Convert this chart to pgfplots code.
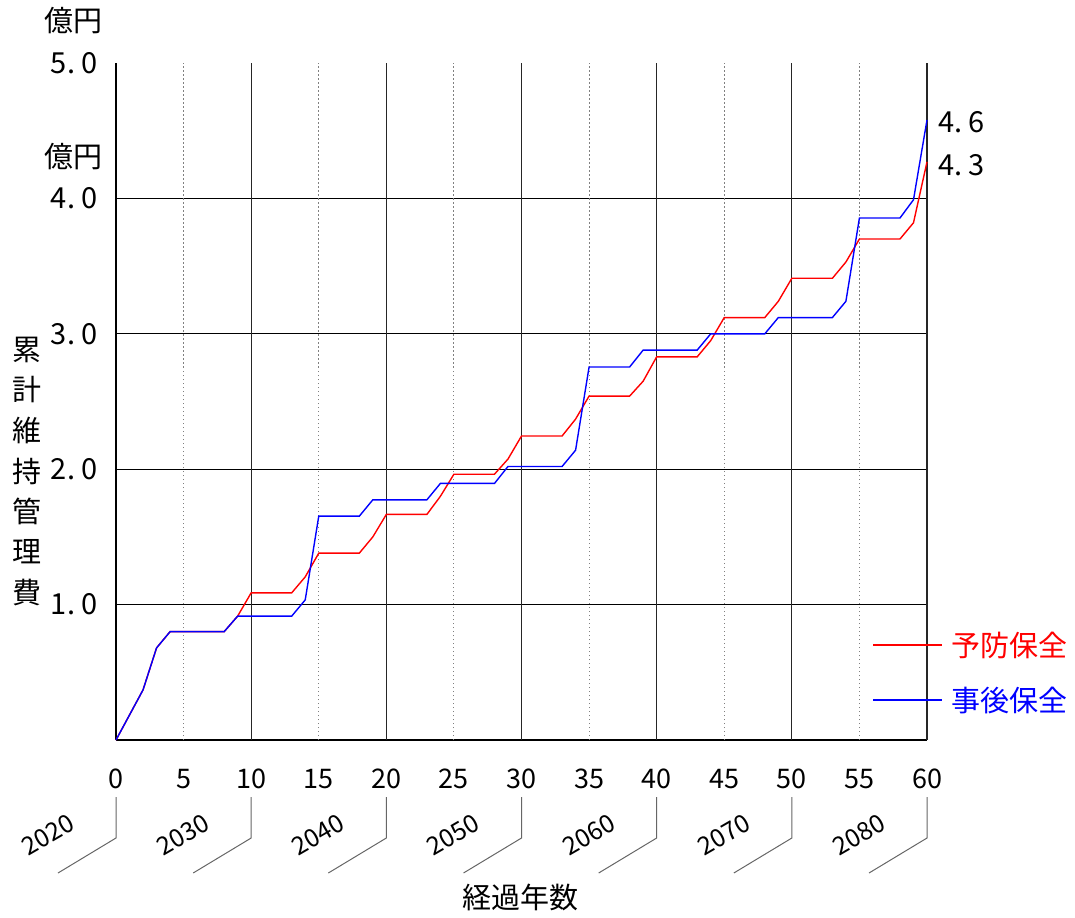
\documentclass[border=0pt]{standalone}
\usepackage{fontspec}
\setmainfont{Noto Sans CJK JP}
\usepackage{pgfplots}
\usepackage{pgfplotstable}
\pgfplotsset{compat=1.18}

\pgfplotstableread{
x y
0 0
1 0.185
2 0.37
3 0.68
4 0.80
5 0.80
6 0.80
7 0.80
8 0.80
9 0.915
10 1.087
11 1.087
12 1.087
13 1.087
14 1.205
15 1.38
16 1.38
17 1.38
18 1.38
19 1.50
20 1.666
21 1.666
22 1.666
23 1.666
24 1.80
25 1.963
26 1.963
27 1.963
28 1.963
29 2.075
30 2.245
31 2.245
32 2.245
33 2.245
34 2.37
35 2.54
36 2.54
37 2.54
38 2.54
39 2.65
40 2.83
41 2.83
42 2.83
43 2.83
44 2.95
45 3.12
46 3.12
47 3.12
48 3.12
49 3.24
50 3.41
51 3.41
52 3.41
53 3.41
54 3.53
55 3.70
56 3.70
57 3.70
58 3.70
59 3.82
60 4.27
}\yobo

\pgfplotstableread{
x y
0 0
1 0.185
2 0.37
3 0.68
4 0.80
5 0.80
6 0.80
7 0.80
8 0.80
9 0.915
10 0.915
11 0.915
12 0.915
13 0.915
14 1.035
15 1.653
16 1.653
17 1.653
18 1.653
19 1.774
20 1.774
21 1.774
22 1.774
23 1.774
24 1.895
25 1.895
26 1.895
27 1.895
28 1.895
29 2.02
30 2.02
31 2.02
32 2.02
33 2.02
34 2.14
35 2.755
36 2.755
37 2.755
38 2.755
39 2.88
40 2.88
41 2.88
42 2.88
43 2.88
44 3.0
45 3.0
46 3.0
47 3.0
48 3.0
49 3.12
50 3.12
51 3.12
52 3.12
53 3.12
54 3.24
55 3.855
56 3.855
57 3.855
58 3.855
59 3.99
60 4.58
}\jigo

\newcommand\bigf{\fontsize{14.5pt}{17pt}\selectfont}

\begin{document}
\begin{tikzpicture}
\useasboundingbox (0,0) rectangle (537.5pt,458.5pt);
\begin{axis}[
  at={(58pt,88.5pt)}, anchor=south west,
  scale only axis, width=405.5pt, height=338.5pt,
  xmin=0, xmax=60, ymin=0, ymax=5,
  axis x line*=bottom, axis y line*=left,
  axis line style={-, black, line width=0.6pt},
  major tick length=0pt,
  xtick={0,5,...,60},
  xticklabels={0,5,10,15,20,25,30,35,40,45,50,55,60},
  ytick={1,2,3,4,5},
  yticklabels={{1.\hspace{0.22em}0},{2.\hspace{0.22em}0},{3.\hspace{0.22em}0},{4.\hspace{0.22em}0},{5.\hspace{0.22em}0}},
  xticklabel style={anchor=base, yshift=-24pt, inner sep=0pt, font=\fontsize{13.5pt}{15pt}\selectfont},
  yticklabel style={anchor=east, xshift=-9pt, inner sep=0pt, font=\bigf},
  clip=false,
  legend style={fill=none, draw=none, at={(0.9322,0.1809)}, anchor=north west,
    inner sep=0pt, row sep=0pt, column sep=4pt, font=\bigf,
    nodes={inner sep=0pt, text height=19.25pt, text depth=8.25pt},
    cells={anchor=west}},
  legend cell align=left,
]
\pgfplotsinvokeforeach{1,2,3,4}{
  \draw[black, line width=0.5pt] (axis cs:0,#1) -- (axis cs:60,#1);
}
\pgfplotsinvokeforeach{5,15,25,35,45,55}{
  \draw[gray, line width=0.5pt, dash pattern=on 0.75pt off 1.25pt] (axis cs:#1,0) -- (axis cs:#1,5);
}
\pgfplotsinvokeforeach{10,20,30,40,50,60}{
  \draw[black!85, line width=0.6pt] (axis cs:#1,0) -- (axis cs:#1,5);
}
\addplot[color=red, line width=0.7pt,
  legend image code/.code={\path[draw=red, line width=1pt] (0pt,0pt) -- (34.5pt,0pt);}]
  table[x=x,y=y] {\yobo};
\addlegendentry{\textcolor{red}{予防保全}}
\addplot[color=blue, line width=0.7pt,
  legend image code/.code={\path[draw=blue, line width=1pt] (0pt,0pt) -- (34.5pt,0pt);}]
  table[x=x,y=y] {\jigo};
\addlegendentry{\textcolor{blue}{事後保全}}
\end{axis}

\begin{scope}[x=0.5pt, y=-0.5pt, yshift=458.5pt]
  \node[anchor=east, inner sep=0pt, font=\bigf] at (103,21) {億円};
  \node[anchor=east, inner sep=0pt, font=\bigf] at (103,157) {億円};
  \node[anchor=west, inner sep=0pt, font=\bigf] at (938,122) {4.\hspace{0.22em}6};
  \node[anchor=west, inner sep=0pt, font=\bigf] at (938,165) {4.\hspace{0.22em}3};
  \foreach \c [count=\i] in {累,計,維,持,管,理,費}{
    \pgfmathsetmacro\yy{349.5+40.5*(\i-1)}
    \node[inner sep=0pt, font=\bigf] at (27,\yy) {\c};
  }
  \node[inner sep=0pt, font=\bigf] at (520,897) {経過年数};
  \foreach \k/\yr in {0/2020,1/2030,2/2040,3/2050,4/2060,5/2070,6/2080}{
    \pgfmathsetmacro\t{116+135.17*\k}
    \draw[black!60, line width=0.5pt] (\t,797) -- (\t,838) -- (\t-58,873);
    \node[rotate=30, inner sep=0pt, font=\fontsize{12.5pt}{14pt}\selectfont] at (\t-68,835) {\yr};
  }
\end{scope}
\end{tikzpicture}
\end{document}
